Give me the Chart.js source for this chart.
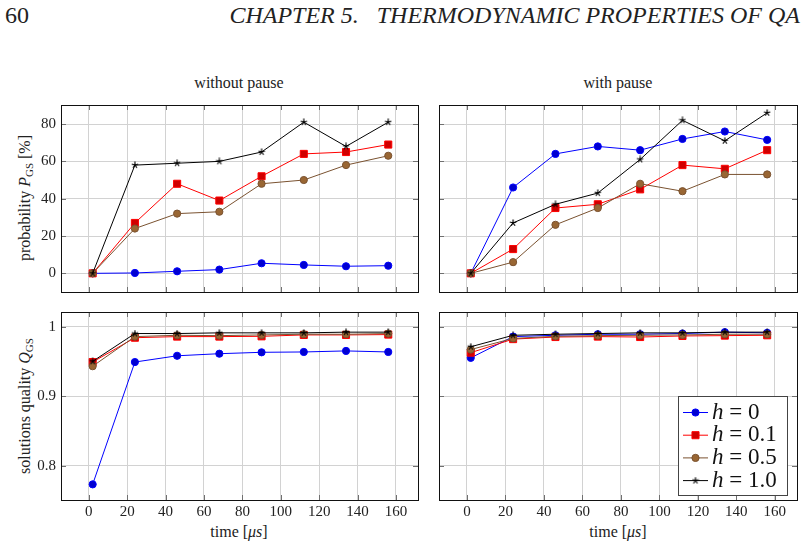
<!DOCTYPE html>
<html>
<head>
<meta charset="utf-8">
<script src="https://cdn.jsdelivr.net/npm/chart.js@4.4.1/dist/chart.umd.min.js"></script>
<style>
  body { margin: 0; background: #fff; }
  #page { position: relative; width: 805px; height: 547px; overflow: hidden; font-family: 'Liberation Serif', serif; color: #222; }
  canvas { position: absolute; }
  .lbl { position: absolute; white-space: nowrap; font-size: 16px; transform: translate(-50%, -50%); }
  .rot { transform: translate(-50%, -50%) rotate(-90deg); }
  .sub { font-size: 11px; position: relative; top: 3px; font-style: normal; }
  .hdr { position: absolute; top: 2px; font-size: 24px; white-space: nowrap; }
</style>
</head>
<body>
<div id="page">
  <div class="hdr" style="left:5px;">60</div>
  <div class="hdr" style="right:5px;font-style:italic;">CHAPTER 5.&nbsp;&nbsp; THERMODYNAMIC PROPERTIES OF QA</div>

  <div class="lbl" style="left:239px;top:83px;">without pause</div>
  <div class="lbl" style="left:618px;top:83px;">with pause</div>
  <div class="lbl rot" style="left:25px;top:198px;">probability <i>P</i><span class="sub">GS</span> [%]</div>
  <div class="lbl rot" style="left:25px;top:406px;">solutions quality <i>Q</i><span class="sub">GS</span></div>
  <div class="lbl" style="left:239px;top:532px;">time [<i>μs</i>]</div>
  <div class="lbl" style="left:618px;top:532px;">time [<i>μs</i>]</div>

  <canvas id="tl" width="425" height="205" style="left:0;top:95px;"></canvas>
  <canvas id="tr" width="380" height="205" style="left:425px;top:95px;"></canvas>
  <canvas id="bl" width="425" height="247" style="left:0;top:300px;"></canvas>
  <canvas id="br" width="380" height="247" style="left:425px;top:300px;"></canvas>
</div>

<script>
// annealing times (x) and tick values
const times = [2, 24, 46, 68, 90, 112, 134, 156];
const xTicks = [0, 20, 40, 60, 80, 100, 120, 140, 160];
const probTicks = [0, 20, 40, 60, 80];
const qualTicks = [0.8, 0.9, 1];
const hLabels = ['0', '0.1', '0.5', '1.0'];

// probability P_GS [%], without pause
const probNoPause_h0 = [0, 0.2, 1.1, 2, 5.4, 4.5, 3.8, 4.1];
const probNoPause_h01 = [0, 27, 48, 39, 52, 64, 65, 69];
const probNoPause_h05 = [0, 24, 32, 33, 48, 50, 58, 63];
const probNoPause_h10 = [0, 58, 59, 60, 65, 81, 68, 81];

// probability P_GS [%], with pause
const probPause_h0 = [0, 46, 64, 68, 66, 72, 76, 71.5];
const probPause_h01 = [0, 13, 35, 37, 45, 58, 56, 66];
const probPause_h05 = [0, 6, 26, 35, 48, 44, 53, 53];
const probPause_h10 = [0, 27, 37, 43, 61, 82, 71, 86];

// solutions quality Q_GS, without pause
const qualNoPause_h0 = [0.773, 0.949, 0.958, 0.961, 0.963, 0.9635, 0.965, 0.9635];
const qualNoPause_h01 = [0.949, 0.984, 0.9856, 0.9856, 0.986, 0.988, 0.988, 0.9885];
const qualNoPause_h05 = [0.943, 0.9856, 0.9875, 0.987, 0.988, 0.989, 0.989, 0.990];
const qualNoPause_h10 = [0.950, 0.990, 0.990, 0.991, 0.991, 0.991, 0.992, 0.992];

// solutions quality Q_GS, with pause
const qualPause_h0 = [0.955, 0.9856, 0.9875, 0.989, 0.989, 0.990, 0.992, 0.991];
const qualPause_h01 = [0.9625, 0.982, 0.985, 0.9856, 0.985, 0.9865, 0.987, 0.9875];
const qualPause_h05 = [0.967, 0.983, 0.986, 0.987, 0.9875, 0.988, 0.989, 0.989];
const qualPause_h10 = [0.971, 0.9875, 0.989, 0.990, 0.991, 0.991, 0.992, 0.992];

Chart.defaults.font.family = "'Liberation Serif', serif";
Chart.defaults.font.size = 15;
Chart.defaults.color = '#222';

// small 5-armed star like the pgfplots "star" mark
const starMark = document.createElement('canvas');
starMark.width = 8; starMark.height = 8;
(function () {
    const c = starMark.getContext('2d');
    c.strokeStyle = '#000';
    c.lineWidth = 1.2;
    c.beginPath();
    for (let k = 0; k < 5; k++) {
        const ang = -Math.PI / 2 + k * 2 * Math.PI / 5;
        c.moveTo(4, 4);
        c.lineTo(4 + 3.4 * Math.cos(ang), 4 + 3.4 * Math.sin(ang));
    }
    c.stroke();
})();

const styles = [
    { line: '#0000ff', fill: '#0000d0', mark: 'circle', r: 3.6, order: 3 },
    { line: '#ff0000', fill: '#d00000', mark: 'rect', r: 5, order: 2 },
    { line: '#7a5230', fill: '#996633', mark: 'circle', r: 3.6, order: 1 },
    { line: '#000000', fill: '#000000', mark: starMark, r: 3.5, order: 0 }
];

function buildSets(series) {
    return series.map((vals, i) => ({
        label: 'h = ' + hLabels[i],
        data: times.map((t, j) => ({ x: t, y: vals[j] })),
        borderColor: styles[i].line,
        borderWidth: 1,
        pointStyle: styles[i].mark,
        pointRadius: styles[i].r,
        pointBackgroundColor: styles[i].fill,
        pointBorderColor: styles[i].line,
        pointBorderWidth: 1,
        order: styles[i].order,
        tension: 0
    }));
}

// frame + inward tick marks on all four sides
const framePlugin = {
    id: 'frame',
    afterDatasetsDraw(chart) {
        const { ctx, chartArea: a, scales: { x, y } } = chart;
        ctx.save();
        ctx.strokeStyle = '#707070';
        ctx.lineWidth = 1;
        ctx.beginPath();
        x.ticks.forEach(t => {
            const px = Math.round(x.getPixelForValue(t.value)) + 0.5;
            ctx.moveTo(px, a.bottom); ctx.lineTo(px, a.bottom - 5);
            ctx.moveTo(px, a.top); ctx.lineTo(px, a.top + 5);
        });
        y.ticks.forEach(t => {
            const py = Math.round(y.getPixelForValue(t.value)) + 0.5;
            ctx.moveTo(a.left, py); ctx.lineTo(a.left + 5, py);
            ctx.moveTo(a.right, py); ctx.lineTo(a.right - 5, py);
        });
        ctx.stroke();
        ctx.strokeStyle = '#111';
        ctx.strokeRect(Math.round(a.left) + 0.5, Math.round(a.top) + 0.5,
            Math.round(a.right - a.left), Math.round(a.bottom - a.top));
        ctx.restore();
    }
};

// legend box inside the lower right plot
const legendPlugin = {
    id: 'boxLegend',
    afterDraw(chart, args, opts) {
        if (!opts.show) return;
        const { ctx, chartArea: a } = chart;
        const w = 109, h = 99;
        const x0 = Math.round(a.right - 10 - w), y0 = Math.round(a.bottom - 5 - h);
        ctx.save();
        ctx.fillStyle = '#fff';
        ctx.fillRect(x0, y0, w, h);
        ctx.strokeStyle = '#444';
        ctx.lineWidth = 1;
        ctx.strokeRect(x0 + 0.5, y0 + 0.5, w, h);
        hLabels.forEach((lab, i) => {
            const st = styles[i];
            const cy = y0 + 16.5 + i * 22.7;
            ctx.strokeStyle = st.line;
            ctx.beginPath();
            ctx.moveTo(x0 + 5, cy); ctx.lineTo(x0 + 30, cy);
            ctx.stroke();
            ctx.fillStyle = st.fill;
            ctx.strokeStyle = st.line;
            Chart.helpers.drawPoint(ctx, { pointStyle: st.mark, radius: st.r, borderWidth: 1, rotation: 0 }, x0 + 17.5, cy);
            ctx.fillStyle = '#111';
            ctx.textBaseline = 'middle';
            ctx.font = "italic 23px 'Liberation Serif', serif";
            ctx.fillText('h', x0 + 34, cy);
            const hw = ctx.measureText('h').width;
            ctx.font = "23px 'Liberation Serif', serif";
            ctx.fillText(' = ' + lab, x0 + 34 + hw, cy);
        });
        ctx.restore();
    }
};

function makeChart(id, series, o) {
    return new Chart(document.getElementById(id), {
        type: 'line',
        data: { datasets: buildSets(series) },
        plugins: [framePlugin, legendPlugin],
        options: {
            responsive: false,
            animation: false,
            layout: { padding: o.pad },
            plugins: {
                legend: { display: false },
                tooltip: { enabled: false },
                boxLegend: { show: !!o.legend }
            },
            scales: {
                x: {
                    type: 'linear',
                    min: -14.5,
                    max: 171.5,
                    afterBuildTicks: s => { s.ticks = xTicks.map(v => ({ value: v })); },
                    afterFit: s => { s.height = o.xh; s.paddingLeft = 0; s.paddingRight = 0; },
                    grid: { color: '#d2d2d2', drawTicks: false },
                    border: { display: false },
                    ticks: { display: o.xh > 0, padding: 3 }
                },
                y: {
                    type: 'linear',
                    min: o.ymin,
                    max: o.ymax,
                    afterBuildTicks: s => { s.ticks = o.yticks.map(v => ({ value: v })); },
                    afterFit: s => { s.width = o.yw; s.paddingTop = 0; s.paddingBottom = 0; },
                    grid: { color: '#d2d2d2', drawTicks: false },
                    border: { display: false },
                    ticks: { display: o.yw > 0, padding: 5, callback: v => String(v) }
                }
            }
        }
    });
}

makeChart('tl', [probNoPause_h0, probNoPause_h01, probNoPause_h05, probNoPause_h10],
    { pad: { left: 0, top: 10, right: 7, bottom: 8 }, xh: 0, yw: 61, ymin: -10, ymax: 90.2, yticks: probTicks });
makeChart('tr', [probPause_h0, probPause_h01, probPause_h05, probPause_h10],
    { pad: { left: 14, top: 10, right: 8, bottom: 8 }, xh: 0, yw: 0, ymin: -10, ymax: 90.2, yticks: probTicks });
makeChart('bl', [qualNoPause_h0, qualNoPause_h01, qualNoPause_h05, qualNoPause_h10],
    { pad: { left: 0, top: 12, right: 7, bottom: 0 }, xh: 47, yw: 61, ymin: 0.7505, ymax: 1.021, yticks: qualTicks });
makeChart('br', [qualPause_h0, qualPause_h01, qualPause_h05, qualPause_h10],
    { pad: { left: 14, top: 12, right: 8, bottom: 0 }, xh: 47, yw: 0, ymin: 0.7505, ymax: 1.021, yticks: qualTicks, legend: true });
</script>
</body>
</html>
